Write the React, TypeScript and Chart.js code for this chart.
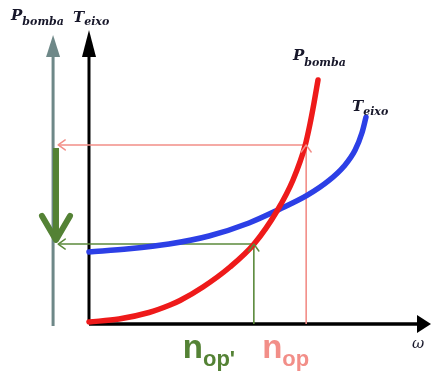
import React, { useEffect, useRef } from "react";
import { Chart, registerables } from "chart.js";

Chart.register(...registerables);

// Pump power curve P_bomba(ω)
const pumpOmega = [0, 0.877, 1.754, 2.368, 2.661, 3.333, 4.123, 4.825, 5.497, 5.965, 6.316, 6.462, 6.579, 6.696];
const pumpPower = [0.068, 0.17, 0.391, 0.646, 0.799, 1.259, 1.939, 2.721, 3.844, 4.898, 6.054, 6.803, 7.517, 8.299];

// Shaft torque curve T_eixo(ω)
const shaftOmega = [0, 1.17, 2.339, 3.509, 4.678, 5.556, 6.374, 7.018, 7.456, 7.778, 7.982, 8.099];
const shaftTorque = [2.449, 2.558, 2.721, 2.993, 3.435, 3.895, 4.371, 4.881, 5.364, 5.908, 6.503, 7.034];

// Operating points
const opSpeeds = [6.35, 4.82]; // n_op, n_op'
const opLevels = [6.09, 2.72]; // P at n_op, P at n_op'

// Axes extents
const axisEnd = [10, 10]; // ω axis end, T axis end
const pumpAxis = [-1.05, -0.07, 9.83]; // x, bottom, top
const guideStart = -0.9;
const shiftArrow = [-0.965, 5.99, 2.86]; // x, from, to

// Texts
const curveLabels = [
  { main: "P", sub: "bomba" },
  { main: "T", sub: "eixo" },
];
const opLabels = [
  { main: "n", sub: "op" },
  { main: "n", sub: "op'" },
];
const omegaLabel = "ω";

const RED = "#ee1a1a";
const BLUE = "#2c3fe6";
const PINK = "#f28e88";
const GREEN = "#5c8a3c";
const GREEN_DARK = "#548235";
const GRAY = "#6e8888";
const INK = "#17172a";

const pts = (xs: number[], ys: number[]) => xs.map((x, i) => ({ x, y: ys[i] }));

function filledArrow(ctx: CanvasRenderingContext2D, tx: number, ty: number, dx: number, dy: number, len: number, hw: number, color: string) {
  const bx = tx - dx * len, by = ty - dy * len;
  const nx = -dy, ny = dx;
  ctx.save();
  ctx.fillStyle = color;
  ctx.beginPath();
  ctx.moveTo(tx, ty);
  ctx.lineTo(bx + nx * hw, by + ny * hw);
  ctx.lineTo(bx - nx * hw, by - ny * hw);
  ctx.closePath();
  ctx.fill();
  ctx.restore();
}

function chevron(ctx: CanvasRenderingContext2D, tx: number, ty: number, dx: number, dy: number, len: number, hw: number, color: string, lw: number) {
  const bx = tx - dx * len, by = ty - dy * len;
  const nx = -dy, ny = dx;
  ctx.save();
  ctx.strokeStyle = color;
  ctx.lineWidth = lw;
  ctx.lineCap = "round";
  ctx.lineJoin = "round";
  ctx.beginPath();
  ctx.moveTo(bx + nx * hw, by + ny * hw);
  ctx.lineTo(tx, ty);
  ctx.lineTo(bx - nx * hw, by - ny * hw);
  ctx.stroke();
  ctx.restore();
}

function subText(ctx: CanvasRenderingContext2D, main: string, sub: string, x: number, base: number, mainFont: string, subFont: string, drop: number, color: string, gap = 0) {
  ctx.save();
  ctx.fillStyle = color;
  ctx.textBaseline = "alphabetic";
  ctx.textAlign = "left";
  ctx.font = mainFont;
  ctx.fillText(main, x, base);
  const w = ctx.measureText(main).width;
  ctx.font = subFont;
  ctx.fillText(sub, x + w + gap, base + drop);
  ctx.restore();
}

const decor = {
  id: "decor",
  afterDatasetsDraw(chart: any) {
    const { ctx, scales } = chart;
    const px = (v: number) => scales.x.getPixelForValue(v);
    const py = (v: number) => scales.y.getPixelForValue(v);

    // axis arrowheads
    filledArrow(ctx, px(pumpAxis[0]), py(pumpAxis[2]), 0, -1, 22, 7, GRAY);
    filledArrow(ctx, px(0), py(axisEnd[1]), 0, -1, 27, 7, "#000");
    filledArrow(ctx, px(axisEnd[0]), py(0), 1, 0, 14, 9, "#000");

    // guide arrowheads
    chevron(ctx, px(guideStart), py(opLevels[0]), -1, 0, 7, 5, PINK, 1.5);
    chevron(ctx, px(opSpeeds[0]), py(opLevels[0]), 0, -1, 7, 5, PINK, 1.5);
    chevron(ctx, px(guideStart), py(opLevels[1]), -1, 0, 7, 5, GREEN, 1.5);
    chevron(ctx, px(opSpeeds[1]), py(opLevels[1]), 0, -1, 7, 5, GREEN, 1.5);

    // thick shift arrowhead
    chevron(ctx, px(shiftArrow[0]), py(shiftArrow[2]), 0, 1, 24, 14, GREEN_DARK, 6);

    const serifMain = "italic bold 15px 'DejaVu Serif'";
    const serifSub = "italic bold 11px 'DejaVu Serif'";

    // axis labels at top
    subText(ctx, curveLabels[0].main, curveLabels[0].sub, px(pumpAxis[0]) - 42, 20, serifMain, serifSub, 5, INK, 0);
    subText(ctx, curveLabels[1].main, curveLabels[1].sub, px(0) - 16, 22, serifMain, serifSub, 3, INK, 0);

    // curve labels
    const rEnd = { x: px(pumpOmega[pumpOmega.length - 1]), y: py(pumpPower[pumpPower.length - 1]) };
    subText(ctx, curveLabels[0].main, curveLabels[0].sub, rEnd.x - 25, rEnd.y - 20, serifMain, serifSub, 6, INK, 0);
    const bEnd = { x: px(shaftOmega[shaftOmega.length - 1]), y: py(shaftTorque[shaftTorque.length - 1]) };
    subText(ctx, curveLabels[1].main, curveLabels[1].sub, bEnd.x - 14, bEnd.y - 6, serifMain, serifSub, 4, INK, 0);

    // operating point labels
    const nMain = "bold 33px 'Liberation Sans'";
    const nSub = "bold 22px 'Liberation Sans'";
    subText(ctx, opLabels[1].main, opLabels[1].sub, px(opSpeeds[1]) - 71, 358, nMain, nSub, 8, GREEN_DARK, 0);
    subText(ctx, opLabels[0].main, opLabels[0].sub, px(opSpeeds[0]) - 44, 358, nMain, nSub, 8, PINK, 0);

    // omega
    ctx.save();
    ctx.fillStyle = INK;
    ctx.font = "italic 15px 'DejaVu Serif'";
    ctx.fillText(omegaLabel, px(axisEnd[0]) - 19, py(0) + 24);
    ctx.restore();
  },
};

export default function App() {
  const ref = useRef<HTMLCanvasElement | null>(null);
  useEffect(() => {
    if (!ref.current) return;
    const line = (data: any[], color: string, width: number, extra: any = {}) => ({
      data,
      borderColor: color,
      backgroundColor: color,
      borderWidth: width,
      pointRadius: 0,
      showLine: true,
      fill: false,
      clip: false,
      ...extra,
    });
    const chart = new Chart(ref.current, {
      type: "scatter",
      data: {
        datasets: [
          line(pts(pumpOmega, pumpPower), RED, 5.5, { cubicInterpolationMode: "monotone", borderCapStyle: "round" }),
          line(pts(shaftOmega, shaftTorque), BLUE, 5.5, { cubicInterpolationMode: "monotone", borderCapStyle: "round" }),
          line([{ x: guideStart, y: opLevels[0] }, { x: opSpeeds[0], y: opLevels[0] }, { x: opSpeeds[0], y: 0 }], PINK, 1.6),
          line([{ x: guideStart, y: opLevels[1] }, { x: opSpeeds[1], y: opLevels[1] }, { x: opSpeeds[1], y: 0 }], GREEN, 1.6),
          line([{ x: shiftArrow[0], y: shiftArrow[1] }, { x: shiftArrow[0], y: shiftArrow[2] + 0.1 }], GREEN_DARK, 6),
          line([{ x: pumpAxis[0], y: pumpAxis[1] }, { x: pumpAxis[0], y: pumpAxis[2] - 0.5 }], GRAY, 3),
          line([{ x: 0, y: 0 }, { x: 0, y: axisEnd[1] - 0.5 }], "#000", 3),
          line([{ x: 0, y: 0 }, { x: axisEnd[0] - 0.3, y: 0 }], "#000", 3.5),
        ],
      },
      options: {
        animation: false,
        responsive: true,
        maintainAspectRatio: false,
        layout: { padding: 0 },
        plugins: { legend: { display: false }, tooltip: { enabled: false }, title: { display: false } },
        scales: {
          x: { type: "linear", min: -2.602, max: 10, display: false },
          y: { type: "linear", min: -1.633, max: 11.02, display: false },
        },
      },
      plugins: [decor],
    });
    return () => chart.destroy();
  }, []);
  return (
    <div style={{ position: "fixed", left: 0, top: 0, width: 431, height: 372, background: "#fff" }}>
      <canvas ref={ref} />
    </div>
  );
}
